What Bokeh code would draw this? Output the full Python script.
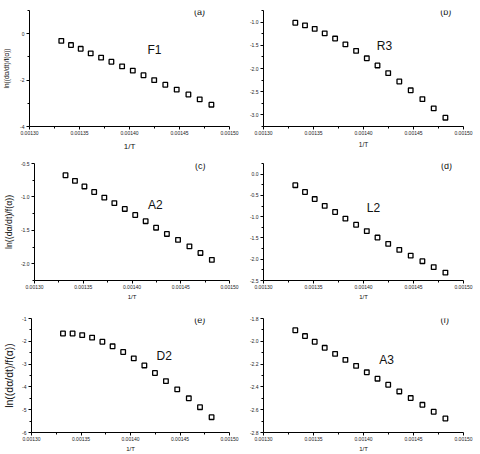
from bokeh.plotting import figure
from bokeh.layouts import column, row
from bokeh.models import Range1d, Label, PrintfTickFormatter, FixedTicker
from bokeh.embed import file_html
from bokeh.resources import INLINE

# ---- data ----
inv_T = [0.0013318, 0.0013415, 0.0013512, 0.0013612, 0.0013716, 0.0013819, 0.0013926,
         0.0014033, 0.0014140, 0.0014247, 0.0014358, 0.0014472, 0.0014589, 0.0014702, 0.0014819]

y_F1 = [-0.31, -0.49, -0.65, -0.85, -1.03, -1.21, -1.41, -1.59, -1.79, -2.00, -2.20, -2.41, -2.62, -2.83, -3.06]
y_R3 = [-1.014, -1.07, -1.146, -1.244, -1.355, -1.48, -1.62, -1.78, -1.934, -2.10, -2.28, -2.47, -2.66, -2.86, -3.06]
y_A2 = [-0.676, -0.76, -0.843, -0.926, -1.01, -1.093, -1.18, -1.27, -1.363, -1.46, -1.554, -1.642, -1.74, -1.838, -1.941]
y_L2 = [-0.26, -0.42, -0.585, -0.746, -0.89, -1.046, -1.19, -1.34, -1.49, -1.64, -1.78, -1.915, -2.046, -2.185, -2.315]
y_D2 = [-1.658, -1.658, -1.728, -1.84, -2.02, -2.22, -2.47, -2.75, -3.06, -3.39, -3.745, -4.11, -4.50, -4.89, -5.33]
y_A3 = [-1.903, -1.954, -2.004, -2.057, -2.11, -2.163, -2.216, -2.272, -2.328, -2.381, -2.44, -2.498, -2.557, -2.618, -2.677]

x_ticks = [0.00130, 0.00135, 0.00140, 0.00145, 0.00150]
x_minor = [0.001325, 0.001375, 0.001425, 0.001475]

FONT = "Liberation Sans"
YLABEL = "ln((d\u03b1/dt)/f(\u03b1))"


def panel(ys, yr, yticks, yminor, yfmt, tag, tag_xy, name, name_xy,
          width, height, bl, br, bt, bb, ylabel=None, ylabel_size="7px",
          ylabel_standoff=5, xlabel_size="6px", xlabel_standoff=2):
    p = figure(width=width, height=height, output_backend="svg", toolbar_location=None,
               x_range=Range1d(0.0013, 0.0015), y_range=Range1d(*yr),
               min_border_left=bl, min_border_right=br, min_border_top=bt, min_border_bottom=bb)
    p.outline_line_color = None
    p.grid.visible = False
    p.background_fill_color = "white"
    p.border_fill_color = "white"

    p.scatter(inv_T, ys, marker="square", size=4.6, fill_color="white",
              line_color="black", line_width=1.3)

    for ax in (p.xaxis[0], p.yaxis[0]):
        ax.axis_line_color = "black"
        ax.axis_line_width = 1
        ax.major_tick_line_color = "black"
        ax.minor_tick_line_color = "black"
        ax.major_tick_in = 0
        ax.major_tick_out = 3
        ax.minor_tick_in = 0
        ax.minor_tick_out = 2
        ax.major_label_text_font = FONT
        ax.major_label_text_font_size = "5px"
        ax.major_label_text_color = "#222222"
        ax.axis_label_text_font = FONT
        ax.axis_label_text_font_style = "normal"
        ax.axis_label_text_color = "#111111"

    xa = p.xaxis[0]
    xa.ticker = FixedTicker(ticks=x_ticks, minor_ticks=x_minor)
    xa.formatter = PrintfTickFormatter(format="%.5f")
    xa.major_label_standoff = 1
    xa.axis_label = "1/T"
    xa.axis_label_text_font_size = xlabel_size
    xa.axis_label_standoff = xlabel_standoff

    ya = p.yaxis[0]
    ya.ticker = FixedTicker(ticks=yticks, minor_ticks=yminor)
    ya.formatter = PrintfTickFormatter(format=yfmt)
    ya.major_label_standoff = 2
    if ylabel:
        ya.axis_label = ylabel
        ya.axis_label_text_font_size = ylabel_size
        ya.axis_label_standoff = ylabel_standoff

    p.add_layout(Label(x=tag_xy[0], y=tag_xy[1], text=tag, text_font=FONT,
                       text_font_size="9px", text_align="center",
                       text_baseline="middle", text_color="#111111"))
    p.add_layout(Label(x=name_xy[0], y=name_xy[1], text=name, text_font=FONT,
                       text_font_size="12px", text_align="center",
                       text_baseline="middle", text_color="#111111"))
    return p


pa = panel(y_F1, (-4, 1), [0, -2, -4], [1, -1, -3], "%d", "(a)", (0.00147, 0.916),
           "F1", (0.001425, -0.685), 240, 153, 29, 11, 10, 24,
           ylabel=YLABEL, ylabel_size="6.5px", ylabel_standoff=7, xlabel_size="8px",
           xlabel_standoff=4)
pb = panel(y_R3, (-3.25, -0.75), [-1.0, -1.5, -2.0, -2.5, -3.0], [-0.75, -1.25, -1.75, -2.25, -2.75, -3.25],
           "%.1f", "(b)", (0.0014822, -0.79), "R3", (0.001421, -1.523), 240, 153, 23, 17, 10, 24,
           xlabel_size="6.5px", xlabel_standoff=3)
pc = panel(y_A2, (-2.25, -0.5), [-0.5, -1.0, -1.5, -2.0], [-0.75, -1.25, -1.75, -2.25],
           "%.1f", "(c)", (0.00147, -0.54), "A2", (0.001424, -1.128), 240, 149, 29, 11, 10, 20,
           ylabel=YLABEL, ylabel_size="8.8px", ylabel_standoff=4)
pd = panel(y_L2, (-2.5, 0.25), [0.0, -0.5, -1.0, -1.5, -2.0, -2.5], [0.25, -0.25, -0.75, -1.25, -1.75, -2.25],
           "%.1f", "(d)", (0.001483, 0.18), "L2", (0.00141, -0.797), 240, 149, 23, 17, 10, 20)
pe = panel(y_D2, (-6, -1), [-1, -2, -3, -4, -5, -6], [-1.5, -2.5, -3.5, -4.5, -5.5],
           "%d", "(e)", (0.00147, -1.07), "D2", (0.001434, -2.655), 240, 152, 29, 11, 16, 17,
           ylabel=YLABEL, ylabel_size="10.5px", ylabel_standoff=4)
pf = panel(y_A3, (-2.8, -1.8), [-1.8, -2.0, -2.2, -2.4, -2.6, -2.8], [-1.9, -2.1, -2.3, -2.5, -2.7],
           "%.1f", "(f)", (0.0014812, -1.811), "A3", (0.001423, -2.163), 240, 152, 23, 17, 16, 17)

layout = column(row(pa, pb), row(pc, pd), row(pe, pf))

open("out.html", "w").write(file_html(layout, INLINE))
